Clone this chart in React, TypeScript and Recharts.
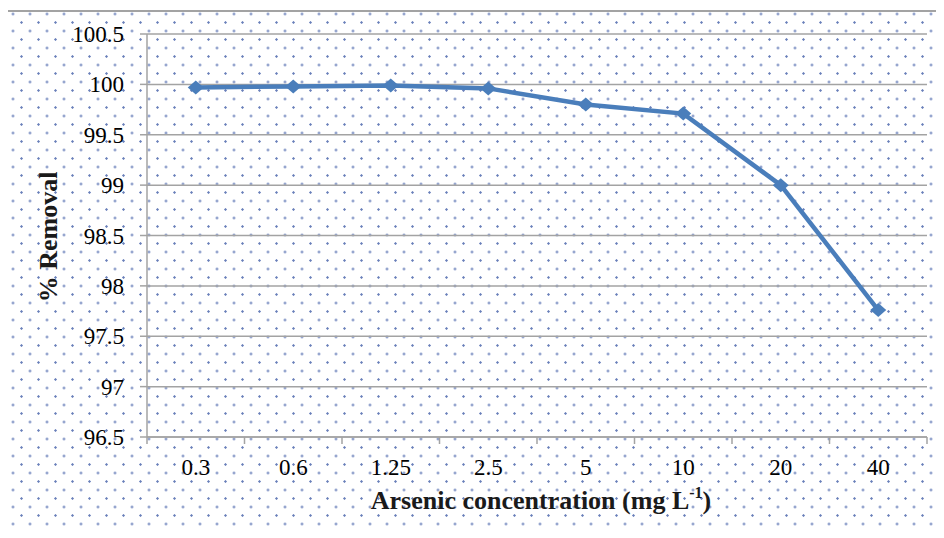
import { LineChart, Line, XAxis, YAxis, CartesianGrid, Label } from 'recharts';

const concentrations = ['0.3', '0.6', '1.25', '2.5', '5', '10', '20', '40'];
const removal = [99.97, 99.98, 99.99, 99.96, 99.8, 99.71, 99.0, 97.76];
const yTicks = [96.5, 97, 97.5, 98, 98.5, 99, 99.5, 100, 100.5];

const data = concentrations.map((c, i) => ({ conc: c, removal: removal[i] }));

const W = 944;
const H = 538;
const PLOT_LEFT = 147;
const PLOT_RIGHT = 927;
const PLOT_TOP = 34;
const PLOT_BOTTOM = 437;
const HALF_BAND = (PLOT_RIGHT - PLOT_LEFT) / concentrations.length / 2;
const AXIS_GRAY = '#a3a3a3';
const BLUE = '#4a7ebb';
const FONT = "'Liberation Serif', 'Times New Roman', serif";
const serif = { fontFamily: FONT };

const dot = 'radial-gradient(circle, #6a80ba 0.9px, rgba(255,255,255,0) 1.5px)';

const CatTick = (props: any) => {
  const { x, payload, index } = props;
  const last = index === concentrations.length - 1;
  return (
    <g>
      <line x1={x - HALF_BAND} x2={x - HALF_BAND} y1={PLOT_BOTTOM} y2={PLOT_BOTTOM + 7} stroke={AXIS_GRAY} strokeWidth={1.5} />
      {last && (
        <line x1={x + HALF_BAND} x2={x + HALF_BAND} y1={PLOT_BOTTOM} y2={PLOT_BOTTOM + 7} stroke={AXIS_GRAY} strokeWidth={1.5} />
      )}
      <text x={x} y={PLOT_BOTTOM + 38} textAnchor="middle" style={serif} fontSize={23} fill="#000">
        {payload.value}
      </text>
    </g>
  );
};

const ValTick = (props: any) => {
  const { y, payload } = props;
  return (
    <text x={PLOT_LEFT - 23} y={y + 8} textAnchor="end" style={serif} fontSize={23} fill="#000">
      {payload.value}
    </text>
  );
};

const Diamond = (props: any) => {
  const { cx, cy } = props;
  if (cx == null || cy == null) return null;
  return <polygon points={`${cx - 8},${cy} ${cx},${cy - 7} ${cx + 8},${cy} ${cx},${cy + 7}`} fill={BLUE} />;
};

const XTitle = () => (
  <text x={541} y={509} textAnchor="middle" style={serif} fontWeight="bold" fontSize={26} fill="#1a1a1a">
    Arsenic concentration (mg L
    <tspan fontSize={16} dy={-11}>-1</tspan>
    <tspan dy={11}>)</tspan>
  </text>
);

const YTitle = () => (
  <text x={57} y={237} transform="rotate(-90 57 237)" textAnchor="middle" style={serif} fontWeight="bold" fontSize={26} fill="#1a1a1a">
    % Removal
  </text>
);

export default function App() {
  return (
    <div style={{ position: 'relative', width: W, height: H, margin: -8, overflow: 'hidden', background: '#fff' }}>
      <div
        style={{
          position: 'absolute',
          left: 6,
          top: 10,
          width: 980,
          height: 580,
          border: `2px solid ${AXIS_GRAY}`,
          backgroundImage: `${dot}, ${dot}`,
          backgroundSize: '17px 17px',
          backgroundPosition: '-3.5px -6.5px, 5px 2px',
        }}
      />
      <LineChart
        width={W}
        height={H}
        data={data}
        margin={{ top: PLOT_TOP, right: W - PLOT_RIGHT, bottom: 21, left: PLOT_LEFT - 60 }}
        style={{ position: 'absolute', left: 0, top: 0 }}
      >
        <CartesianGrid vertical={false} stroke={AXIS_GRAY} strokeWidth={1.5} />
        <XAxis
          dataKey="conc"
          type="category"
          interval={0}
          height={80}
          padding={{ left: HALF_BAND, right: HALF_BAND }}
          axisLine={{ stroke: AXIS_GRAY, strokeWidth: 1.5 }}
          tickLine={false}
          tick={<CatTick />}
        >
          <Label content={<XTitle />} />
        </XAxis>
        <YAxis
          width={60}
          domain={[96.5, 100.5]}
          ticks={yTicks}
          interval={0}
          axisLine={{ stroke: AXIS_GRAY, strokeWidth: 1.5 }}
          tickLine={{ stroke: AXIS_GRAY, strokeWidth: 1.5 }}
          tickSize={7}
          tick={<ValTick />}
        >
          <Label content={<YTitle />} />
        </YAxis>
        <Line
          type="linear"
          dataKey="removal"
          stroke={BLUE}
          strokeWidth={4.5}
          dot={<Diamond />}
          activeDot={false}
          isAnimationActive={false}
        />
      </LineChart>
    </div>
  );
}
